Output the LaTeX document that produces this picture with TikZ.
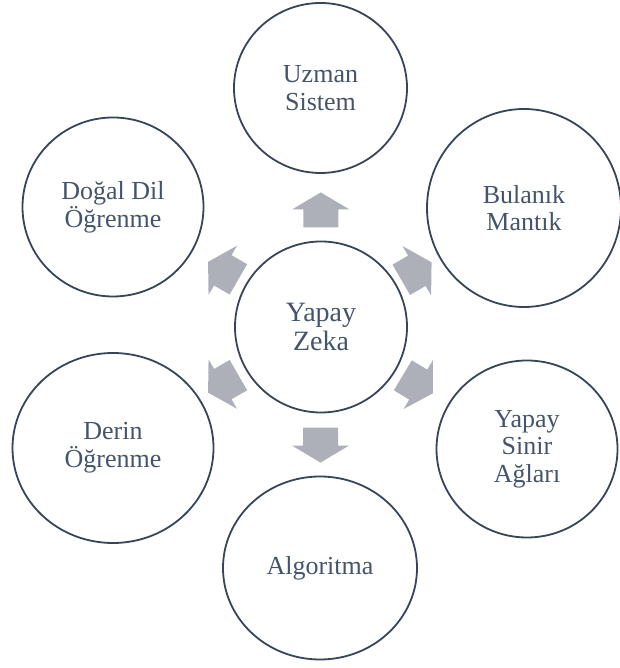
\documentclass[tikz,border=0pt]{standalone}
\usepackage{fontspec}
\setmainfont{Liberation Serif}
\usetikzlibrary{shapes.geometric, calc}
\definecolor{metin}{RGB}{68,84,106}
\definecolor{cizgi}{RGB}{55,69,88}
\definecolor{okgri}{RGB}{173,176,184}
\tikzset{
  kavram/.style={ellipse, draw=cizgi, line width=1.8pt, text=metin, align=center, inner sep=0pt,
    font=\fontsize{26}{27.7}\selectfont},
  blokok/.style={fill=okgri}
}

\begin{document}
\begin{tikzpicture}[x=1pt, y=1pt]
  \useasboundingbox (0,0) rectangle (619,668);
  \node[kavram, minimum width=172pt, minimum height=171pt, font=\fontsize{28}{28.3}\selectfont] (zeka) at (321,341) {Yapay\\Zeka};
  \node[kavram, minimum width=173pt, minimum height=170pt] (uzman) at (320.5,580) {Uzman\\Sistem};
  \node[kavram, minimum width=194pt, minimum height=198pt] (bulanik) at (524,460) {Bulanık\\Mantık};
  \node[kavram, minimum width=181pt, minimum height=177pt] (sinir) at (527,219) {Yapay\\Sinir\\Ağları};
  \node[kavram, minimum width=194pt, minimum height=183pt] (algoritma) at (320,100) {Algoritma};
  \node[kavram, minimum width=201pt, minimum height=190pt] (derin) at (113,220) {Derin\\Öğrenme};
  \node[kavram, minimum width=181pt, minimum height=179pt] (dogal) at (113,461) {Doğal Dil\\Öğrenme};
  % blok oklar
  \foreach \hedef/\aci/\oran in {uzman/90/0.49, bulanik/30/0.47, sinir/-31/0.47, algoritma/-90/0.49, derin/210/0.47, dogal/150/0.47}
    \fill[blokok, shift={($(zeka)!\oran!(\hedef)$)}, rotate=\aci]
      (-17.5,-17.5) -- (0.5,-17.5) -- (0.5,-28.5) -- (17.5,0) -- (0.5,28.5) -- (0.5,17.5) -- (-17.5,17.5) -- cycle;
\end{tikzpicture}
\end{document}
